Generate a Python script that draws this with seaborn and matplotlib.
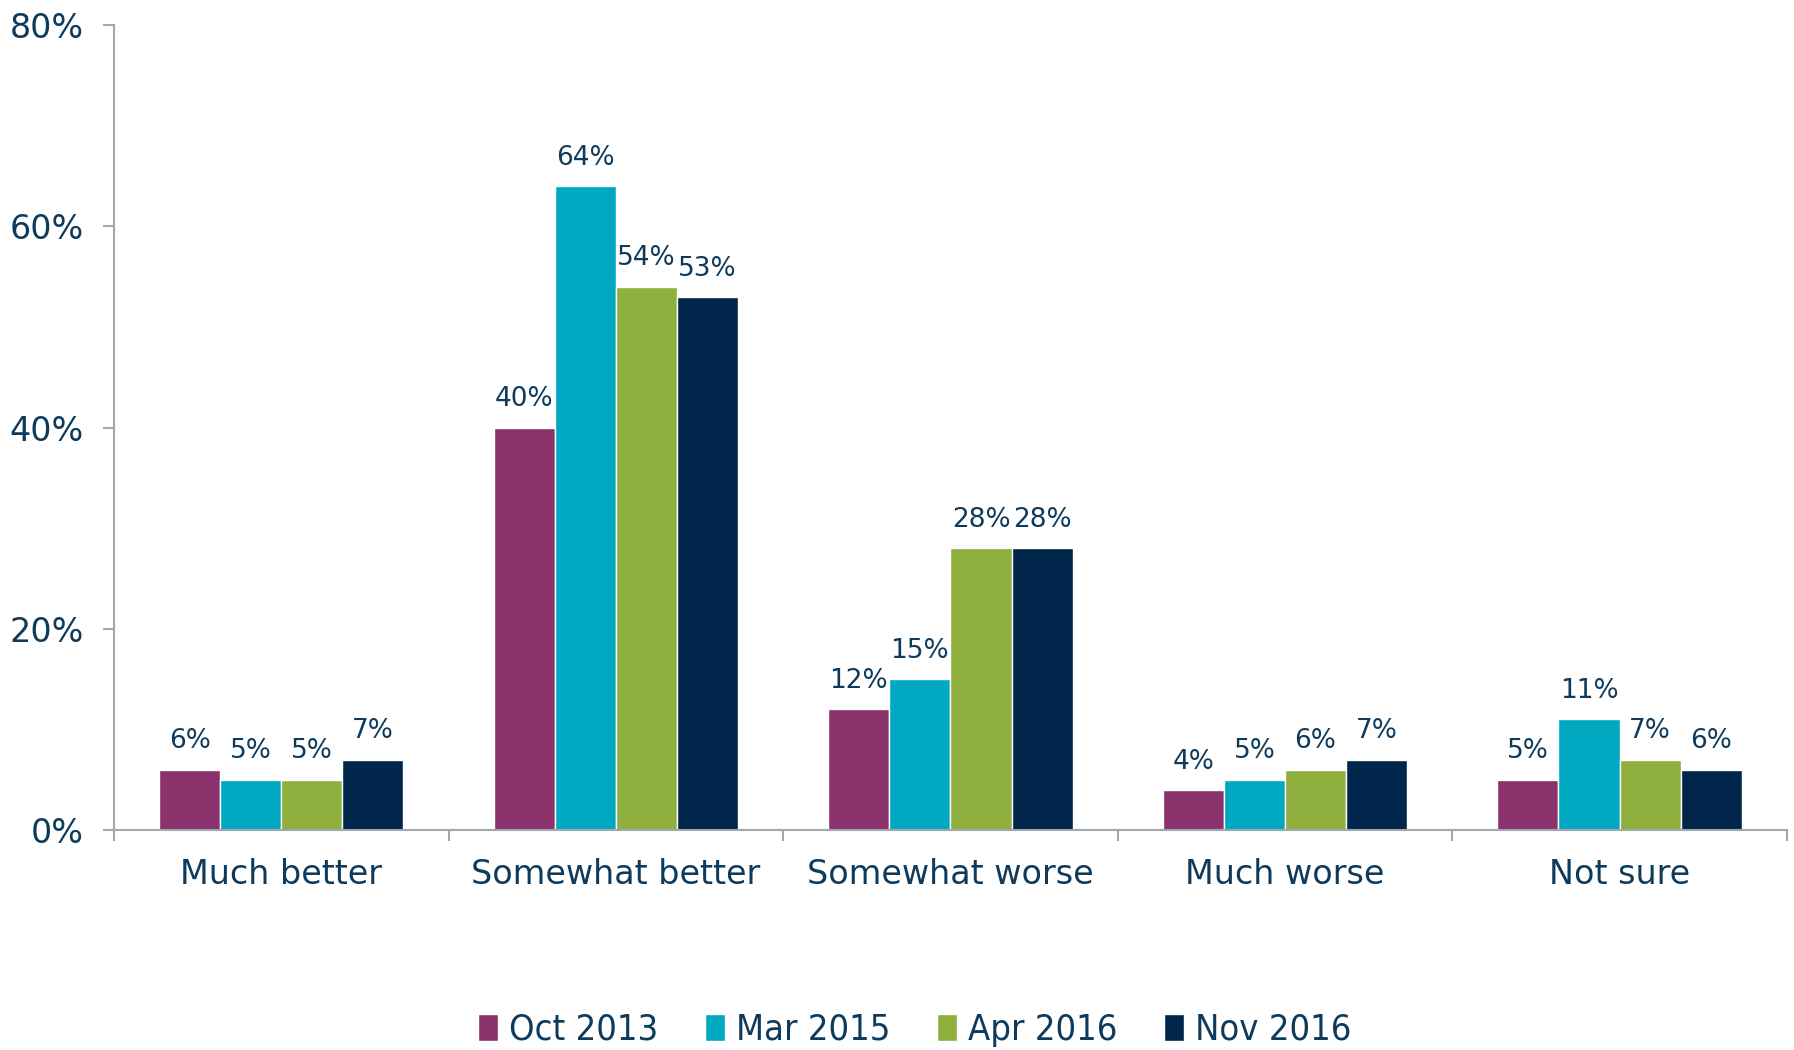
import pandas as pd
import matplotlib.pyplot as plt
import seaborn as sns
from matplotlib.ticker import FixedLocator

# Data
categories = ["Much better", "Somewhat better", "Somewhat worse", "Much worse", "Not sure"]
waves = ["Oct 2013", "Mar 2015", "Apr 2016", "Nov 2016"]
oct_2013 = [6, 40, 12, 4, 5]
mar_2015 = [5, 64, 15, 5, 11]
apr_2016 = [5, 54, 28, 6, 7]
nov_2016 = [7, 53, 28, 7, 6]
colors = ["#8B316B", "#00A8C2", "#8FAF3F", "#00274B"]

df = pd.DataFrame({
    "category": categories * 4,
    "wave": [w for w in waves for _ in categories],
    "value": oct_2013 + mar_2015 + apr_2016 + nov_2016,
})

sns.set_style("white")
plt.rcParams["font.family"] = ["DejaVu Sans"]
text_color = "#0E3A5C"
axis_color = "#A2A6AD"

fig = plt.figure(figsize=(17.94, 10.5), dpi=100)
ax = fig.add_axes([0.0636, 0.2095, 0.9324, 0.7665])

sns.barplot(data=df, x="category", y="value", hue="wave", palette=colors,
            width=0.73, saturation=1, ax=ax, legend=True)

for cont in ax.containers:
    ax.bar_label(cont, fmt="%d%%", padding=11, fontsize=19, color=text_color)

ax.set_xlim(-0.5, 4.5)
ax.set_ylim(0, 80)
ax.set_yticks([0, 20, 40, 60, 80])
ax.set_yticklabels(["0%", "20%", "40%", "60%", "80%"])
ax.set_xlabel("")
ax.set_ylabel("")

ax.xaxis.set_minor_locator(FixedLocator([-0.5, 0.5, 1.5, 2.5, 3.5, 4.5]))
ax.tick_params(axis="x", which="major", length=0, pad=20, labelsize=24, labelcolor=text_color)
ax.tick_params(axis="x", which="minor", length=8, width=1.5, color=axis_color, bottom=True)
ax.tick_params(axis="y", length=8, width=1.5, color=axis_color, left=True, pad=14,
               labelsize=24, labelcolor=text_color)

sns.despine(ax=ax)
for s in ["left", "bottom"]:
    ax.spines[s].set_color(axis_color)
    ax.spines[s].set_linewidth(1.5)

handles, labels = ax.get_legend_handles_labels()
ax.legend_.remove()
fig.legend(handles, labels, loc="lower center", bbox_to_anchor=(0.51, -0.028), ncol=4,
           frameon=False, handlelength=0.55, handleheight=0.8, handletextpad=0.3,
           columnspacing=1.3,
           prop={"family": "DejaVu Sans", "stretch": "condensed", "size": 26},
           labelcolor=text_color)

fig.savefig("out.png", dpi=100)
